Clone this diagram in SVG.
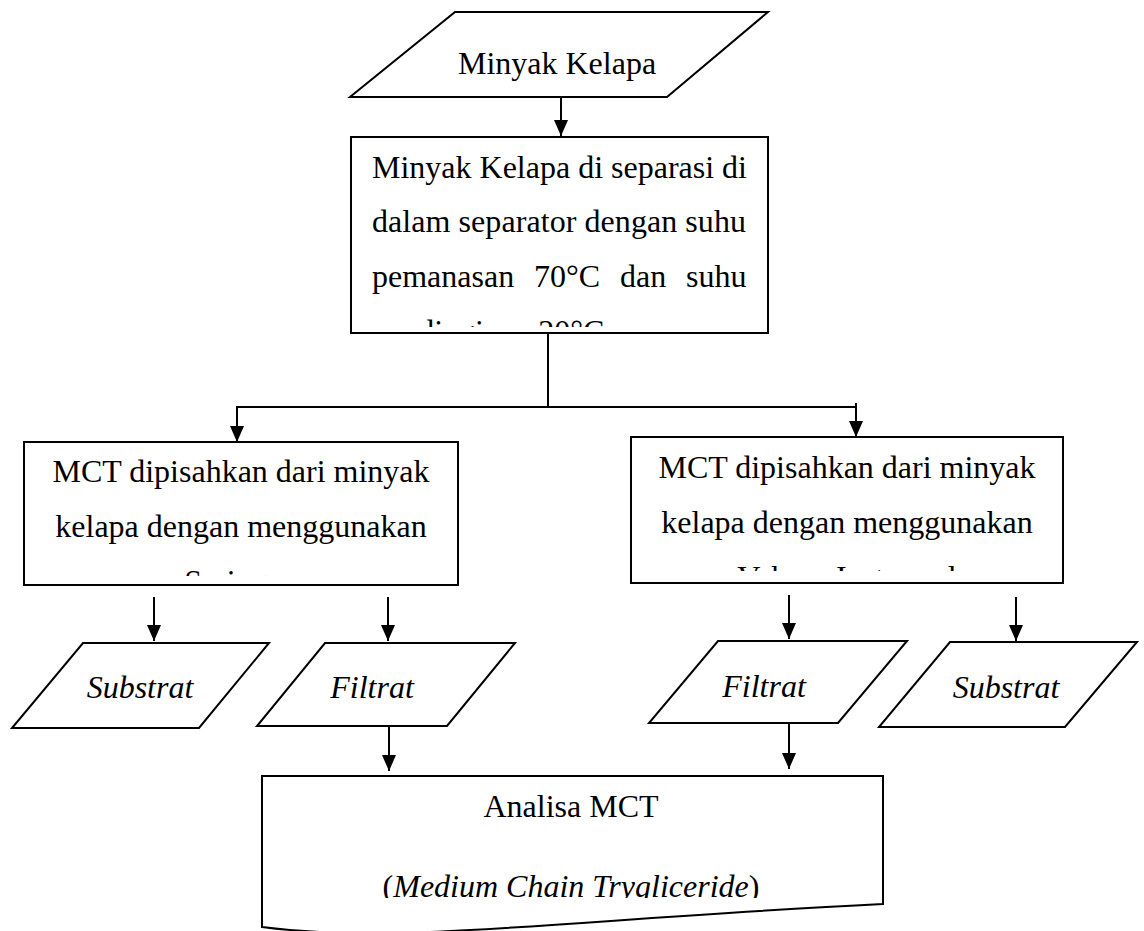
<svg xmlns="http://www.w3.org/2000/svg" width="1144" height="931" viewBox="0 0 1144 931">
  <style>
    .shape { fill: #ffffff; stroke: #000000; stroke-width: 2; }
    .conn { fill: none; stroke: #000000; stroke-width: 2; }
    .t { font-family: "Liberation Serif", "Times New Roman", serif; font-size: 32px; fill: #000000; }
    .c { text-anchor: middle; }
    .i { font-style: italic; }
  </style>
  <defs>
    <marker id="ah" markerUnits="userSpaceOnUse" markerWidth="16" markerHeight="14" refX="16" refY="7" orient="auto" viewBox="0 0 16 14">
      <path d="M0,0 L16,7 L0,14 Z" fill="#000000"/>
    </marker>
    <clipPath id="clipSep"><rect x="352" y="138" width="415" height="189"/></clipPath>
    <clipPath id="clipL"><rect x="25" y="443" width="432" height="133"/></clipPath>
    <clipPath id="clipR"><rect x="632" y="438" width="430" height="133"/></clipPath>
    <clipPath id="clipA"><rect x="263" y="777" width="619" height="121"/></clipPath>
  </defs>

  <g id="connectors">
    <line class="conn" x1="561" y1="97" x2="561" y2="136" marker-end="url(#ah)"/>
    <line class="conn" x1="548" y1="333" x2="548" y2="407"/>
    <line class="conn" x1="236" y1="407" x2="856" y2="407"/>
    <line class="conn" x1="237" y1="406" x2="237" y2="442" marker-end="url(#ah)"/>
    <line class="conn" x1="856" y1="403" x2="856" y2="437" marker-end="url(#ah)"/>
    <line class="conn" x1="154" y1="597" x2="154" y2="641" marker-end="url(#ah)"/>
    <line class="conn" x1="388" y1="597" x2="388" y2="641" marker-end="url(#ah)"/>
    <line class="conn" x1="789" y1="595" x2="789" y2="639" marker-end="url(#ah)"/>
    <line class="conn" x1="1016" y1="597" x2="1016" y2="641" marker-end="url(#ah)"/>
    <line class="conn" x1="389" y1="726" x2="389" y2="771" marker-end="url(#ah)"/>
    <line class="conn" x1="789" y1="723" x2="789" y2="769" marker-end="url(#ah)"/>
  </g>

  <g id="node-minyak-kelapa">
    <polygon class="shape" points="455,12 768,12 667,97 350,97"/>
    <text class="t c" x="557" y="74">Minyak Kelapa</text>
  </g>

  <g id="node-separasi">
    <rect class="shape" x="351" y="137" width="417" height="196"/>
    <g clip-path="url(#clipSep)">
      <text class="t" x="372" y="178">Minyak Kelapa di separasi di</text>
      <text class="t" x="372" y="232" textLength="374" lengthAdjust="spacing">dalam separator dengan suhu</text>
      <text class="t" x="372" y="287">pemanasan</text>
      <text class="t" x="534" y="287">70°C</text>
      <text class="t" x="620" y="287">dan</text>
      <text class="t" x="686" y="287">suhu</text>
      <text class="t" x="372" y="342">pendinginan 20°C</text>
    </g>
  </g>

  <g id="node-mct-saringan">
    <rect class="shape" x="24" y="442" width="434" height="143"/>
    <g clip-path="url(#clipL)">
      <text class="t c" x="241" y="482">MCT dipisahkan dari minyak</text>
      <text class="t c" x="241" y="537">kelapa dengan menggunakan</text>
      <text class="t c" x="241" y="592">Saringan</text>
    </g>
  </g>

  <g id="node-mct-vakum">
    <rect class="shape" x="631" y="437" width="432" height="146"/>
    <g clip-path="url(#clipR)">
      <text class="t c" x="847" y="478">MCT dipisahkan dari minyak</text>
      <text class="t c" x="847" y="533">kelapa dengan menggunakan</text>
      <text class="t c" x="847" y="588">Vakum Isotermal</text>
    </g>
  </g>

  <g id="node-substrat-left">
    <polygon class="shape" points="83,643 269,643 199,728 12,728"/>
    <text class="t c i" x="140" y="698">Substrat</text>
  </g>

  <g id="node-filtrat-left">
    <polygon class="shape" points="325,643 515,643 447,726 257,726"/>
    <text class="t c i" x="372" y="698">Filtrat</text>
  </g>

  <g id="node-filtrat-right">
    <polygon class="shape" points="718,641 907,641 838,723 649,723"/>
    <text class="t c i" x="764" y="697">Filtrat</text>
  </g>

  <g id="node-substrat-right">
    <polygon class="shape" points="950,642 1137,642 1065,727 879,727"/>
    <text class="t c i" x="1006" y="698">Substrat</text>
  </g>

  <g id="node-analisa">
    <path class="shape" d="M262,927 L262,776 L883,776 L883,904 C560,920 400,945 262,927 Z"/>
    <g clip-path="url(#clipA)">
      <text class="t c" x="571" y="817">Analisa MCT</text>
      <text class="t c" x="571" y="897">(<tspan class="i">Medium Chain Trygliceride</tspan>)</text>
    </g>
  </g>
</svg>
